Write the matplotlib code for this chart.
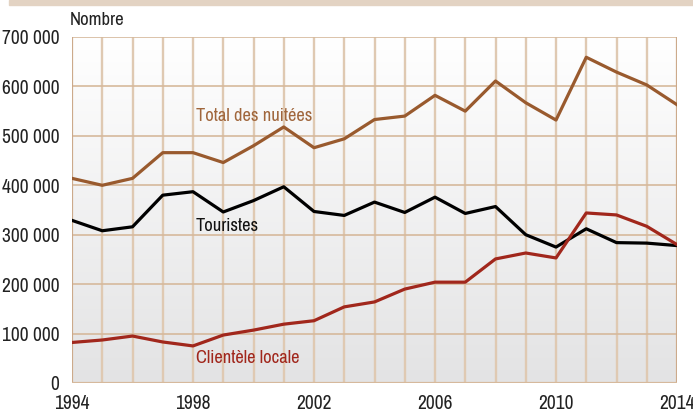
import numpy as np
import matplotlib
matplotlib.use("Agg")
import matplotlib.pyplot as plt
from matplotlib.colors import LinearSegmentedColormap

# Données
annees = list(range(1994, 2015))
total_nuitees = [414000, 400000, 414000, 466000, 466000, 446000, 480000, 518000,
                 476000, 494000, 533000, 540000, 582000, 550000, 611000, 567000,
                 532000, 659000, 629000, 603000, 563000]
touristes = [329000, 308000, 316000, 380000, 387000, 346000, 369000, 397000,
             347000, 339000, 366000, 345000, 376000, 343000, 357000, 300000,
             275000, 312000, 284000, 283000, 278000]
clientele_locale = [82000, 87000, 95000, 83000, 75000, 97000, 107000, 119000,
                    126000, 154000, 164000, 190000, 204000, 204000, 251000, 263000,
                    253000, 344000, 340000, 317000, 280000]
yticks = [0, 100000, 200000, 300000, 400000, 500000, 600000, 700000]
ytick_labels = ["0", "100 000", "200 000", "300 000", "400 000", "500 000", "600 000", "700 000"]
xticks = [1994, 1998, 2002, 2006, 2010, 2014]

# police étroite (type Helvetica Condensed)
plt.rcParams['font.family'] = ['Archivo Narrow', 'Barlow Semi Condensed', 'DejaVu Sans']
taille = 14

fig = plt.figure(figsize=(6.93, 4.12), dpi=100)
ax = fig.add_axes([72/693, 1 - 383/412, 605/693, 346/412])

# fond en dégradé
cmap = LinearSegmentedColormap.from_list('fond', ['#e3e3e4', '#ffffff'])
grad = np.linspace(0, 1, 256).reshape(-1, 1)
ax.imshow(grad, aspect='auto', cmap=cmap, origin='lower',
          extent=[1994, 2014, 0, 700000], zorder=0)

# grille
for a in annees:
    ax.axvline(a, color='#dfc9b2', lw=1.7, zorder=1)
for v in yticks[1:]:
    ax.axhline(v, color='#d6b99c', lw=1.2, zorder=1)
ax.axvline(1994, color='#c9a484', lw=1.2, zorder=2)
ax.axvline(2014, color='#c9a484', lw=1.2, zorder=2)
ax.axhline(0, color='#d6b99c', lw=1.6, zorder=2)

ax.plot(annees, total_nuitees, color='#995a2e', lw=2.3, zorder=3)
ax.plot(annees, touristes, color='#000000', lw=2.3, zorder=3)
ax.plot(annees, clientele_locale, color='#a1271c', lw=2.3, zorder=4)

ax.set_xlim(1994, 2014)
ax.set_ylim(0, 700000)
ax.set_yticks(yticks)
ax.set_yticklabels(ytick_labels)
ax.set_xticks(xticks)
ax.tick_params(length=0, labelsize=taille, colors='#222222')
ax.tick_params(axis='y', pad=9)
ax.tick_params(axis='x', pad=8)
for s in ax.spines.values():
    s.set_visible(False)

ax.text(1998.1, 540000, "Total des nuitées", color='#a0663c', fontsize=13.3, va='center')
ax.text(1998.1, 317000, "Touristes", color='#111111', fontsize=13.3, va='center')
ax.text(1998.1, 50000, "Clientèle locale", color='#a1271c', fontsize=13.3, va='center')

fig.text(70/693, 1 - 20/412, "Nombre", fontsize=13.5, color='#222222', va='center')

# bandeau du haut
fig.patches.append(plt.Rectangle((9/693, 1 - 5/412), 1, 5/412, transform=fig.transFigure,
                                 color='#e3d3c3', zorder=0))

fig.savefig('out.png', dpi=100)
